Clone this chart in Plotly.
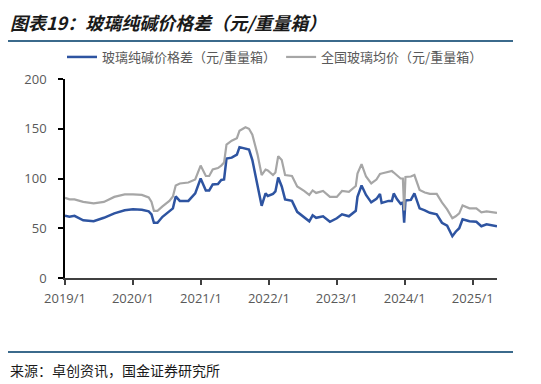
import plotly.graph_objects as go

dates = [
    "2019-01-01", "2019-01-25", "2019-02-21", "2019-04-09", "2019-06-04", "2019-07-29",
    "2019-09-23", "2019-11-18", "2020-01-01", "2020-02-18", "2020-03-26", "2020-04-10",
    "2020-04-23", "2020-05-12", "2020-06-08", "2020-07-15", "2020-08-03", "2020-08-18",
    "2020-09-09", "2020-10-25", "2020-12-01", "2020-12-30", "2021-01-27", "2021-02-14",
    "2021-03-05", "2021-04-02", "2021-04-20", "2021-05-05", "2021-05-18", "2021-06-15",
    "2021-07-13", "2021-07-27", "2021-08-28", "2021-09-16", "2021-10-04", "2021-11-01",
    "2021-11-23", "2021-12-14", "2021-12-26", "2022-01-23", "2022-02-05", "2022-02-20",
    "2022-03-11", "2022-03-29", "2022-05-05", "2022-06-02", "2022-07-09", "2022-08-06",
    "2022-08-24", "2022-09-12", "2022-10-19", "2022-11-25", "2023-01-01", "2023-01-29",
    "2023-03-07", "2023-04-13", "2023-04-22", "2023-05-14", "2023-06-07", "2023-07-05",
    "2023-08-02", "2023-08-21", "2023-08-30", "2023-10-06", "2023-10-24", "2023-11-03",
    "2023-11-21", "2023-12-10", "2023-12-22", "2023-12-29", "2024-01-05", "2024-02-03",
    "2024-02-22", "2024-03-21", "2024-04-18", "2024-05-15", "2024-06-21", "2024-07-19",
    "2024-08-16", "2024-09-13", "2024-10-01", "2024-10-20", "2024-11-07", "2024-12-14",
    "2025-01-20", "2025-02-16", "2025-03-16", "2025-04-22", "2025-05-11",
]

spread = [
    62.5, 61.5, 62.5, 58, 57, 60.5,
    65, 68, 69, 68.5, 67, 64,
    55.5, 55.5, 61.5, 66.5, 70, 82,
    77.5, 77.5, 85, 100, 88, 88,
    94, 94.5, 98.5, 99, 120, 121,
    124, 131.5, 129.5, 129, 118.5, 92,
    72.5, 85, 82.5, 84.5, 87, 101,
    92, 79, 77.5, 66.5, 61.5, 57,
    63, 60.5, 62, 56.5, 60, 64,
    62, 67.5, 81.5, 93, 83.5, 76,
    79.5, 84.5, 75.5, 77.5, 77.5, 85,
    79, 74.5, 76, 55.5, 78, 78.5,
    85, 70, 68, 65.5, 64, 55.5,
    52.5, 42, 46.5, 50, 59, 57,
    56.5, 52, 54, 53, 52,
]

glass = [
    80.5, 79, 79, 76.5, 75, 76.5,
    81.5, 84, 84, 83.5, 81, 76.5,
    67.5, 67.5, 72, 77.5, 82, 93,
    95, 96, 99, 113, 102.5, 102.5,
    109, 110.5, 113, 116, 134, 138,
    140.5, 148, 151.5, 150, 144, 124,
    103.5, 109, 108, 103.5, 106, 122.5,
    118.5, 103.5, 102.5, 92, 87.5, 83.5,
    88, 85.5, 87.5, 81.5, 81.5, 87.5,
    86.5, 92.5, 105, 114.5, 102, 95,
    99, 104.5, 105, 107, 107.5, 106,
    103, 100, 100, 68, 101.5, 102,
    103.5, 88.5, 86, 84.5, 84.5, 76,
    69, 60, 62, 65, 73, 70,
    70, 66, 67, 66, 65.5,
]

x_tick_vals = ["2019-01-01", "2020-01-01", "2021-01-01", "2022-01-01",
               "2023-01-01", "2024-01-01", "2025-01-01"]
x_tick_text = ["2019/1", "2020/1", "2021/1", "2022/1", "2023/1", "2024/1", "2025/1"]
y_tick_vals = [0, 50, 100, 150, 200]

name_spread = "玻璃纯碱价格差（元/重量箱）"
name_glass = "全国玻璃均价（元/重量箱）"
title_text = "图表19：玻璃纯碱价格差（元/重量箱）"
source_text = "来源：卓创资讯，国金证券研究所"

# page body has an 8px margin, so figure coordinates are reference pixels minus 8
OFF = 8
W, H = 541 - OFF, 384 - OFF
L, T = 65 - OFF, 79 - OFF
R = W - (497 - OFF)
B = H - (278 - OFF)
pw, ph = W - L - R, H - T - B


def px(xp):
    return (xp - OFF - L) / pw


def py(yp):
    return (H - B - (yp - OFF)) / ph


fig = go.Figure()
fig.add_trace(go.Scatter(x=dates, y=spread, mode="lines", name=name_spread,
                         line=dict(color="#2E54A1", width=2.5)))
fig.add_trace(go.Scatter(x=dates, y=glass, mode="lines", name=name_glass,
                         line=dict(color="#A6A6A6", width=2.2)))

axis_font = dict(family="Open Sans, Noto Sans CJK SC", size=13, color="#595959")

fig.update_layout(
    width=W, height=H,
    margin=dict(l=L, r=R, t=T, b=B, pad=0, autoexpand=False),
    paper_bgcolor="white", plot_bgcolor="white",
    showlegend=True,
    legend=dict(orientation="h", x=px(62), y=py(57), xanchor="left", yanchor="middle",
                font=dict(family="Noto Sans CJK SC", size=13, color="#595959"),
                itemwidth=30, bgcolor="rgba(0,0,0,0)", tracegroupgap=0),
    xaxis=dict(type="date", range=["2019-01-01", "2025-05-11"],
               tickvals=x_tick_vals, ticktext=x_tick_text,
               showgrid=False, zeroline=False,
               showline=True, linecolor="#404040", linewidth=1.5,
               ticks="outside", ticklen=5, tickcolor="#404040", tickwidth=1.5,
               ticklabelstandoff=3, tickfont=axis_font),
    yaxis=dict(range=[0, 200], tickvals=y_tick_vals,
               showgrid=False, zeroline=False,
               showline=True, linecolor="#000000", linewidth=1.5,
               ticks="outside", ticklen=5, tickcolor="#000000", tickwidth=1.5,
               ticklabelstandoff=9, tickfont=axis_font),
    shapes=[
        dict(type="line", xref="paper", yref="paper", x0=px(8), x1=px(513),
             y0=py(41), y1=py(41), line=dict(color="#3B6A8C", width=2)),
        dict(type="line", xref="paper", yref="paper", x0=px(8), x1=px(513),
             y0=py(352), y1=py(352), line=dict(color="#3B6A8C", width=2)),
    ],
    annotations=[
        dict(text="<b><i>" + title_text + "</i></b>", xref="paper", yref="paper",
             x=px(8), y=py(22), xanchor="left", yanchor="middle", showarrow=False,
             font=dict(family="Noto Sans CJK SC", size=18, color="#1a1a1a")),
        dict(text=source_text, xref="paper", yref="paper",
             x=px(8), y=py(370), xanchor="left", yanchor="middle", showarrow=False,
             font=dict(family="Noto Sans CJK SC", size=14, color="#1a1a1a")),
    ],
)

fig.write_html("out.html")
